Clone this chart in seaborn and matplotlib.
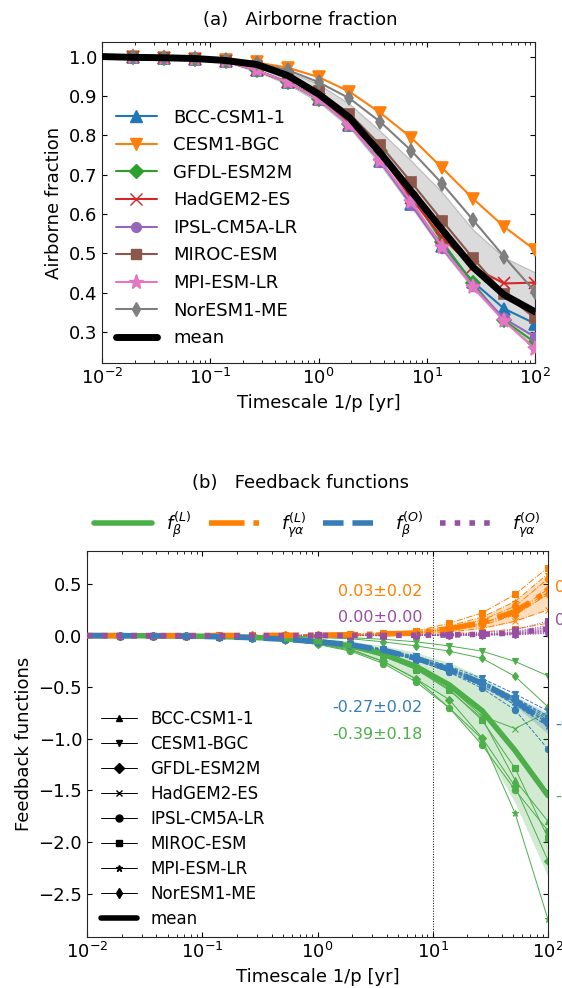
import numpy as np
import pandas as pd
import matplotlib
matplotlib.use("Agg")
import matplotlib.pyplot as plt
from matplotlib.lines import Line2D
import seaborn as sns

# ---------------- data ----------------
timescale = [0.01, 0.0193, 0.0373, 0.0720, 0.139, 0.268, 0.518, 1.0,
             1.93, 3.73, 7.20, 13.9, 26.8, 51.8, 100.0]

models = ["BCC-CSM1-1", "CESM1-BGC", "GFDL-ESM2M", "HadGEM2-ES",
          "IPSL-CM5A-LR", "MIROC-ESM", "MPI-ESM-LR", "NorESM1-ME"]

# (a) airborne fraction per model
af_bcc = [1.0, 0.998, 0.997, 0.995, 0.988, 0.965, 0.935, 0.892, 0.826, 0.735, 0.625, 0.520, 0.428, 0.360, 0.322]
af_cesm = [1.0, 0.998, 0.997, 0.995, 0.992, 0.985, 0.972, 0.948, 0.911, 0.857, 0.794, 0.717, 0.639, 0.568, 0.509]
af_gfdl = [1.0, 0.998, 0.997, 0.995, 0.988, 0.965, 0.935, 0.892, 0.830, 0.760, 0.649, 0.530, 0.424, 0.330, 0.274]
af_had = [1.0, 0.998, 0.997, 0.995, 0.988, 0.965, 0.935, 0.892, 0.830, 0.750, 0.640, 0.540, 0.465, 0.424, 0.426]
af_ipsl = [1.0, 0.998, 0.997, 0.995, 0.988, 0.965, 0.935, 0.892, 0.826, 0.733, 0.624, 0.513, 0.418, 0.335, 0.288]
af_miroc = [1.0, 0.998, 0.997, 0.995, 0.989, 0.975, 0.950, 0.912, 0.855, 0.775, 0.681, 0.583, 0.488, 0.398, 0.336]
af_mpi = [1.0, 0.998, 0.997, 0.995, 0.988, 0.965, 0.935, 0.892, 0.826, 0.735, 0.632, 0.517, 0.415, 0.328, 0.258]
af_nor = [1.0, 0.998, 0.997, 0.995, 0.991, 0.983, 0.966, 0.935, 0.894, 0.834, 0.761, 0.677, 0.585, 0.492, 0.403]
af_mean = [1.0, 0.998, 0.997, 0.995, 0.990, 0.980, 0.952, 0.905, 0.845, 0.755, 0.658, 0.560, 0.465, 0.395, 0.352]
af_band_lo = [1.0, 0.998, 0.997, 0.994, 0.986, 0.962, 0.930, 0.885, 0.820, 0.725, 0.618, 0.508, 0.410, 0.330, 0.262]
af_band_hi = [1.0, 0.998, 0.997, 0.995, 0.990, 0.980, 0.962, 0.930, 0.880, 0.810, 0.735, 0.655, 0.560, 0.490, 0.452]

# (b) feedback functions: land beta (L)
fbL_bcc = [0, 0, -0.002, -0.005, -0.010, -0.020, -0.035, -0.065, -0.110, -0.200, -0.330, -0.530, -0.800, -1.400, -1.800]
fbL_cesm = [0, 0, 0, -0.001, -0.002, -0.004, -0.007, -0.012, -0.020, -0.035, -0.060, -0.100, -0.150, -0.250, -0.390]
fbL_gfdl = [0, 0, -0.002, -0.005, -0.012, -0.025, -0.045, -0.080, -0.140, -0.250, -0.420, -0.620, -0.990, -1.460, -2.180]
fbL_had = [0, 0, -0.002, -0.004, -0.008, -0.016, -0.030, -0.055, -0.100, -0.180, -0.300, -0.500, -0.780, -0.900, -0.740]
fbL_ipsl = [0, 0, -0.002, -0.005, -0.012, -0.025, -0.045, -0.085, -0.150, -0.270, -0.450, -0.700, -1.060, -1.495, -1.890]
fbL_miroc = [0, 0, -0.002, -0.004, -0.009, -0.018, -0.032, -0.060, -0.100, -0.190, -0.320, -0.520, -0.820, -1.285, -1.960]
fbL_mpi = [0, 0, -0.002, -0.005, -0.010, -0.022, -0.040, -0.075, -0.130, -0.250, -0.420, -0.700, -1.000, -1.720, -2.750]
fbL_nor = [0, 0, 0, -0.001, -0.003, -0.006, -0.010, -0.018, -0.030, -0.060, -0.100, -0.150, -0.220, -0.395, -0.690]

# land gamma-alpha (L)
fgL_bcc = [0, 0, 0, 0, 0.001, 0.002, 0.003, 0.005, 0.008, 0.016, 0.025, 0.065, 0.120, 0.220, 0.420]
fgL_cesm = [0, 0, 0, 0, 0, 0.001, 0.001, 0.002, 0.003, 0.005, 0.007, 0.020, 0.035, 0.065, 0.120]
fgL_gfdl = [0, 0, 0, 0, 0.001, 0.002, 0.003, 0.005, 0.008, 0.016, 0.024, 0.062, 0.120, 0.230, 0.450]
fgL_had = [0, 0, 0, 0, 0, 0.001, 0.002, 0.003, 0.005, 0.010, 0.013, 0.035, 0.070, 0.140, 0.250]
fgL_ipsl = [0, 0, 0, 0, 0.001, 0.002, 0.003, 0.006, 0.010, 0.020, 0.030, 0.080, 0.150, 0.285, 0.550]
fgL_miroc = [0, 0, 0, 0.001, 0.002, 0.003, 0.005, 0.008, 0.015, 0.030, 0.045, 0.120, 0.220, 0.400, 0.660]
fgL_mpi = [0, 0, 0, 0, 0.001, 0.002, 0.004, 0.007, 0.012, 0.024, 0.036, 0.095, 0.180, 0.330, 0.600]
fgL_nor = [0, 0, 0, 0, 0.001, 0.001, 0.002, 0.004, 0.007, 0.014, 0.021, 0.055, 0.100, 0.200, 0.400]

# ocean beta (O)
fbO_bcc = [0, -0.001, -0.002, -0.005, -0.009, -0.019, -0.033, -0.056, -0.084, -0.135, -0.210, -0.310, -0.440, -0.600, -0.780]
fbO_cesm = [0, -0.001, -0.002, -0.004, -0.009, -0.018, -0.031, -0.053, -0.079, -0.128, -0.200, -0.295, -0.415, -0.565, -0.730]
fbO_gfdl = [0, -0.001, -0.002, -0.005, -0.010, -0.019, -0.034, -0.058, -0.087, -0.140, -0.218, -0.325, -0.455, -0.620, -0.820]
fbO_had = [0, -0.001, -0.002, -0.005, -0.010, -0.020, -0.035, -0.060, -0.090, -0.145, -0.225, -0.335, -0.470, -0.645, -0.850]
fbO_ipsl = [0, -0.001, -0.002, -0.005, -0.010, -0.021, -0.037, -0.063, -0.095, -0.152, -0.237, -0.355, -0.510, -0.720, -1.100]
fbO_miroc = [0, -0.001, -0.002, -0.005, -0.009, -0.019, -0.033, -0.056, -0.085, -0.137, -0.213, -0.317, -0.445, -0.605, -0.800]
fbO_mpi = [0, -0.001, -0.002, -0.005, -0.010, -0.021, -0.037, -0.062, -0.094, -0.150, -0.234, -0.350, -0.490, -0.670, -0.880]
fbO_nor = [0, -0.001, -0.002, -0.005, -0.010, -0.020, -0.035, -0.059, -0.089, -0.143, -0.222, -0.332, -0.465, -0.635, -0.840]

# ocean gamma-alpha (O)
fgO_bcc = [0, 0, 0, 0, 0, 0, 0, 0.001, 0.001, 0.002, 0.003, 0.005, 0.010, 0.020, 0.050]
fgO_cesm = [0, 0, 0, 0, 0, 0, 0, 0, 0, 0.001, 0.001, 0.002, 0.004, 0.008, 0.020]
fgO_gfdl = [0, 0, 0, 0, 0, 0, 0, 0.001, 0.001, 0.002, 0.003, 0.006, 0.012, 0.025, 0.060]
fgO_had = [0, 0, 0, 0, 0, 0, 0, 0, 0.001, 0.001, 0.002, 0.004, 0.008, 0.016, 0.040]
fgO_ipsl = [0, 0, 0, 0, 0, 0, 0.001, 0.001, 0.002, 0.002, 0.004, 0.008, 0.016, 0.032, 0.080]
fgO_miroc = [0, 0, 0, 0, 0, 0.001, 0.001, 0.002, 0.003, 0.004, 0.007, 0.014, 0.028, 0.056, 0.140]
fgO_mpi = [0, 0, 0, 0, 0, 0, 0.001, 0.001, 0.002, 0.003, 0.005, 0.010, 0.020, 0.040, 0.100]
fgO_nor = [0, 0, 0, 0, 0, 0, 0, 0, 0.001, 0.001, 0.002, 0.003, 0.006, 0.012, 0.030]

func_labels = [r"$f_\beta^{(L)}$", r"$f_{\gamma\alpha}^{(L)}$",
               r"$f_\beta^{(O)}$", r"$f_{\gamma\alpha}^{(O)}$"]
ann_at10 = ["-0.39\u00b10.18", "0.03\u00b10.02", "-0.27\u00b10.02", "0.00\u00b10.00"]
ann_at100 = ["-1.55\u00b10.79", "0.43\u00b10.17", "-0.85\u00b10.10", "0.07\u00b10.04"]

af_models = [af_bcc, af_cesm, af_gfdl, af_had, af_ipsl, af_miroc, af_mpi, af_nor]
funcs = [
    [fbL_bcc, fbL_cesm, fbL_gfdl, fbL_had, fbL_ipsl, fbL_miroc, fbL_mpi, fbL_nor],
    [fgL_bcc, fgL_cesm, fgL_gfdl, fgL_had, fgL_ipsl, fgL_miroc, fgL_mpi, fgL_nor],
    [fbO_bcc, fbO_cesm, fbO_gfdl, fbO_had, fbO_ipsl, fbO_miroc, fbO_mpi, fbO_nor],
    [fgO_bcc, fgO_cesm, fgO_gfdl, fgO_had, fgO_ipsl, fgO_miroc, fgO_mpi, fgO_nor],
]

# ---------------- style ----------------
sns.set_style("ticks")
plt.rcParams["font.family"] = ["DejaVu Sans"]
plt.rcParams["mathtext.fontset"] = "dejavusans"
for key in ["text.color", "axes.labelcolor", "xtick.color", "ytick.color"]:
    plt.rcParams[key] = "black"
plt.rcParams["axes.edgecolor"] = "0.15"

model_colors = sns.color_palette("tab10", 8)
model_markers = ["^", "v", "D", "x", "o", "s", "*", "d"]
top_msize = [8, 8, 7, 8, 7, 7, 11, 7]
set1 = sns.color_palette("Set1", 5)
func_colors = [set1[2], set1[4], set1[1], set1[3]]
func_ls = ["-", "-.", "--", ":"]
mk_every = list(range(1, 15))
FS = 13

fig = plt.figure(figsize=(5.62, 9.88), dpi=100)
ax1 = fig.add_axes([0.1815, 0.6326, 0.7705, 0.3249])
ax2 = fig.add_axes([0.1548, 0.0516, 0.8203, 0.3907])

# ---------------- panel (a) ----------------
ax1.fill_between(timescale, af_band_lo, af_band_hi, facecolor=(0.6, 0.6, 0.6, 0.35),
                 edgecolor=(0.6, 0.6, 0.6, 0.6), lw=0.8, zorder=1)
handles_a = []
for name, vals, c, mk, ms in zip(models, af_models, model_colors, model_markers, top_msize):
    sns.lineplot(x=timescale, y=vals, ax=ax1, color=c, lw=1.5, marker=mk,
                 markersize=ms, markevery=mk_every, markeredgecolor=c,
                 markeredgewidth=1.2, legend=False, zorder=3)
    handles_a.append(Line2D([], [], color=c, lw=1.5, marker=mk, markersize=ms,
                            markeredgecolor=c, label=name))
sns.lineplot(x=timescale, y=af_mean, ax=ax1, color="k", lw=5, legend=False, zorder=4)
handles_a.append(Line2D([], [], color="k", lw=5, label="mean"))

ax1.set_xscale("log")
ax1.set_xlim(0.01, 100)
ax1.set_ylim(0.222, 1.037)
ax1.set_yticks([0.3, 0.4, 0.5, 0.6, 0.7, 0.8, 0.9, 1.0])
ax1.set_xlabel("Timescale 1/p [yr]", fontsize=FS)
ax1.set_ylabel("Airborne fraction", fontsize=FS)
ax1.tick_params(which="both", direction="in", top=True, right=True, labelsize=FS)
ax1.legend(handles=handles_a, loc="upper left", bbox_to_anchor=(0.015, 0.815),
           frameon=False, fontsize=13, handlelength=2.3, borderaxespad=0,
           labelspacing=0.53, handletextpad=0.9)

# ---------------- panel (b) ----------------
ax2.axvline(10, color="k", ls=":", lw=0.7, zorder=0)
for fvals, c, ls in zip(funcs, func_colors, func_ls):
    arr = np.array(fvals)
    m = arr.mean(axis=0)
    s = arr.std(axis=0)
    ax2.fill_between(timescale, m - s, m + s, color=c, alpha=0.25, lw=0, zorder=1)
    for vals, mk in zip(fvals, model_markers):
        sns.lineplot(x=timescale, y=vals, ax=ax2, color=c, lw=0.7, ls=ls, marker=mk,
                     markersize=4.5, markevery=mk_every, markeredgecolor=c,
                     markeredgewidth=0.8, legend=False, zorder=2)
    sns.lineplot(x=timescale, y=m, ax=ax2, color=c, lw=4, ls=ls, legend=False, zorder=3)

ax2.set_xscale("log")
ax2.set_xlim(0.01, 100)
ax2.set_ylim(-2.92, 0.82)
ax2.set_yticks([-2.5, -2.0, -1.5, -1.0, -0.5, 0.0, 0.5])
ax2.set_xlabel("Timescale 1/p [yr]", fontsize=FS)
ax2.set_ylabel("Feedback functions", fontsize=FS)
ax2.tick_params(which="both", direction="in", top=True, right=True, labelsize=FS)

# annotations at x=10
ann_y = [-0.96, 0.43, -0.70, 0.175]
for txt, c, y in zip(ann_at10, func_colors, ann_y):
    ax2.text(8.2, y, txt, color=c, fontsize=11.5, ha="right", va="center")
# annotations beyond the right edge (cut by the figure border as in the original)
ann_y_r = [-1.56, 0.47, -0.86, 0.15]
for txt, c, y in zip(ann_at100, func_colors, ann_y_r):
    ax2.text(1.015, y, txt, color=c, fontsize=11.5, ha="left", va="center",
             transform=ax2.get_yaxis_transform())

# function legend above panel
fhandles = [Line2D([], [], color=c, lw=4, ls=ls, label=lab)
            for c, ls, lab in zip(func_colors, func_ls, func_labels)]
leg = ax2.legend(handles=fhandles, loc="lower left", bbox_to_anchor=(0, 1.01, 1, 0.1),
                 mode="expand", ncol=4, frameon=False, fontsize=13,
                 handlelength=3.2, borderaxespad=0)
ax2.add_artist(leg)

# model legend
handles_b = [Line2D([], [], color="k", lw=0.7, marker=mk, markersize=5, label=name)
             for name, mk in zip(models, model_markers)]
handles_b.append(Line2D([], [], color="k", lw=4, label="mean"))
ax2.legend(handles=handles_b, loc="upper left", bbox_to_anchor=(0.015, 0.605),
           frameon=False, fontsize=12, handlelength=2.2, borderaxespad=0,
           labelspacing=0.42)

fig.text(0.534, 0.980, "(a)   Airborne fraction", ha="center", va="center", fontsize=FS)
fig.text(0.534, 0.511, "(b)   Feedback functions", ha="center", va="center", fontsize=FS)

fig.savefig("out.png", dpi=100)
